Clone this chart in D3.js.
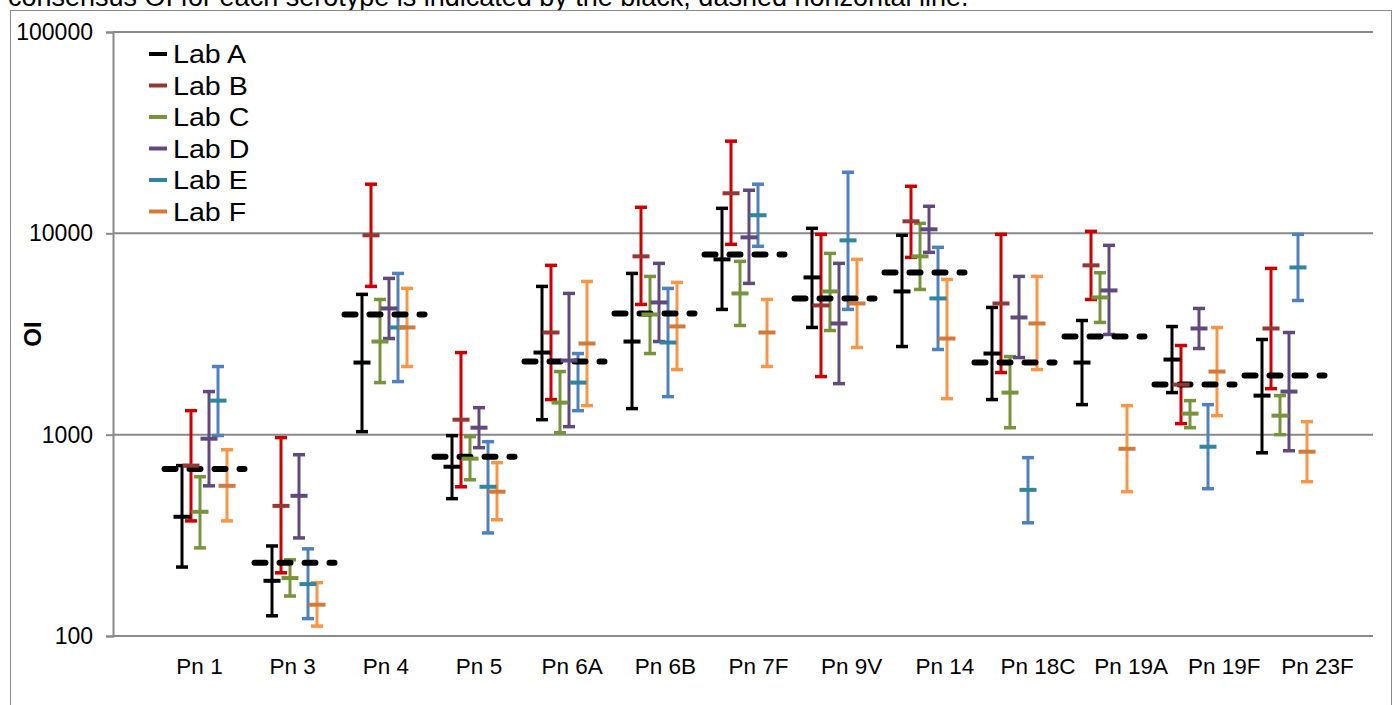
<!DOCTYPE html>
<html>
<head>
<meta charset="utf-8">
<script src="https://cdn.jsdelivr.net/npm/d3@7"></script>
<style>
  html, body { margin: 0; padding: 0; background: #ffffff; }
  svg { display: block; font-family: "Liberation Sans", Arial, sans-serif; }
</style>
</head>
<body>
<svg id="chart" width="1393" height="705"></svg>
<script>
// ---------- data ----------
const categories = ["Pn 1","Pn 3","Pn 4","Pn 5","Pn 6A","Pn 6B","Pn 7F","Pn 9V","Pn 14","Pn 18C","Pn 19A","Pn 19F","Pn 23F"];
const labs = ["Lab A","Lab B","Lab C","Lab D","Lab E","Lab F"];
const yTicks = [100, 1000, 10000, 100000];

const labAMean = [391, 188, 2281, 693, 2558, 2901, 7425, 6040, 5145, 2529, 2281, 2361, 1563];
const labALow  = [220, 126, 1035, 481, 1187, 1347, 4188, 3408, 2740, 1494, 1410, 1618, 813];
const labAHigh = [702, 280, 4975, 989, 5450, 6323, 13310, 10590, 9775, 4285, 3690, 3444, 2970];

const labBMean = [702, 443, 9775, 1187, 3217, 7686, 15810, 4385, 11470, 4483, 6934, 1773, 3368];
const labBLow  = [373, 206, 5450, 551, 1494, 4434, 8817, 1943, 7596, 2035, 4694, 1135, 1693];
const labBHigh = [1316, 967, 17540, 2558, 6934, 13470, 28700, 9885, 17130, 9885, 10230, 2773, 6698];

const labCMean = [414, 194, 2901, 760, 1443, 3954, 5029, 5145, 7686, 1618, 4805, 1272, 1243];
const labCLow  = [274, 158, 1814, 597, 1023, 2529, 3486, 3291, 5265, 1083, 3609, 1083, 1000];
const labCHigh = [618, 239, 4694, 978, 2058, 6110, 7256, 7950, 11210, 2443, 6370, 1476, 1563];

const labDMean = [955, 497, 4236, 1083, 2335, 4537, 9550, 3567, 10470, 3820, 5205, 3368, 1637];
const labDLow  = [557, 307, 3003, 862, 1096, 2901, 5640, 1793, 8045, 2415, 3145, 2679, 832];
const labDHigh = [1637, 795, 5973, 1362, 5029, 7093, 16370, 7093, 13630, 6110, 8718, 4236, 3217];

const labEMean = [1476, 181, 3408, 551, 1814, 2869, 12300, 9230, 4750, 532, null, 871, 6770];
const labELow  = [990, 122, 1835, 325, 1316, 1545, 8618, 4188, 2648, 365, null, 539, 4640];
const labEHigh = [2180, 271, 6323, 923, 2529, 5326, 17540, 20110, 8520, 769, null, 1410, 9885];

const labFMean = [557, 143, 3408, 521, 2837, 3448, 3217, 4483, 3003, 3567, 851, 2058, 823];
const labFLow  = [373, 112, 2180, 378, 1394, 2106, 2180, 2709, 1510, 2106, 521, 1243, 584];
const labFHigh = [842, 184, 5326, 726, 5768, 5703, 4694, 7425, 5904, 6110, 1394, 3408, 1161];

const consensus = [676, 231, 3954, 777, 2308, 4000, 7860, 4750, 6397, 2281, 3073, 1773, 1966];

const barColors  = ["#000000", "#CC0000", "#77933C", "#604A7B", "#4F81BD", "#F79646"];
const markColors = ["#000000", "#953735", "#77933C", "#604A7B", "#31859C", "#D07A3C"];

const labSeries = [
  {mean: labAMean, low: labALow, high: labAHigh},
  {mean: labBMean, low: labBLow, high: labBHigh},
  {mean: labCMean, low: labCLow, high: labCHigh},
  {mean: labDMean, low: labDLow, high: labDHigh},
  {mean: labEMean, low: labELow, high: labEHigh},
  {mean: labFMean, low: labFLow, high: labFHigh}
];

// ---------- layout ----------
const svg = d3.select("#chart");
const plotLeft = 113, plotRight = 1373, plotTop = 32, plotBottom = 636;
const gridColor = "#898989";

const y = d3.scaleLog().domain([100, 100000]).range([plotBottom, plotTop]);
const xGroup = d3.scalePoint().domain(categories).range([204.5, 1284.5]);
const xLabel = d3.scalePoint().domain(categories).range([199, 1317]);
const xLab = d3.scalePoint().domain(labs).range([-22.5, 22.5]);

svg.append("rect").attr("width", 1393).attr("height", 705).attr("fill", "#fff");

// caption (partially cut off at the top, as in the source image)
svg.append("text")
  .attr("x", 8).attr("y", 6)
  .attr("font-size", 27)
  .attr("fill", "#000")
  .text("consensus OI for each serotype is indicated by the black, dashed horizontal line.");

// chart area border
svg.append("rect")
  .attr("x", 10.5).attr("y", 10.5)
  .attr("width", 1381).attr("height", 720)
  .attr("fill", "#fff")
  .attr("stroke", gridColor).attr("stroke-width", 1);

// gridlines
svg.append("g")
  .selectAll("line")
  .data(yTicks)
  .join("line")
  .attr("x1", plotLeft).attr("x2", plotRight)
  .attr("y1", d => y(d)).attr("y2", d => y(d))
  .attr("stroke", gridColor).attr("stroke-width", 2);

// y axis
const yAxis = d3.axisLeft(y)
  .tickValues(yTicks)
  .tickFormat(d3.format("d"))
  .tickSize(7)
  .tickPadding(13);
const gy = svg.append("g").attr("transform", `translate(${plotLeft},0)`).call(yAxis);
gy.select(".domain").attr("stroke", gridColor).attr("stroke-width", 2);
gy.selectAll(".tick line").attr("stroke", gridColor).attr("stroke-width", 2);
gy.selectAll(".tick text")
  .attr("font-size", 23)
  .attr("font-family", "'Liberation Sans', Arial, sans-serif")
  .attr("fill", "#000");

// x axis labels
const xAxis = d3.axisBottom(xLabel).tickSize(0).tickPadding(22);
const gx = svg.append("g").attr("transform", `translate(0,${plotBottom})`).call(xAxis);
gx.select(".domain").remove();
gx.selectAll(".tick text")
  .attr("font-size", 22.5)
  .attr("font-family", "'Liberation Sans', Arial, sans-serif")
  .attr("fill", "#000");

// y axis title
svg.append("text")
  .attr("transform", "translate(32,334) rotate(-90)")
  .attr("text-anchor", "middle")
  .attr("dominant-baseline", "central")
  .attr("font-size", 24)
  .attr("font-weight", "bold")
  .text("OI");

// error bars
const barsG = svg.append("g");
labSeries.forEach((s, li) => {
  const g = barsG.append("g");
  const pts = categories.map((c, i) => ({c, mean: s.mean[i], low: s.low[i], high: s.high[i]}))
    .filter(d => d.mean != null);
  const xpos = d => xGroup(d.c) + xLab(labs[li]);
  g.selectAll("line.stem").data(pts).join("line")
    .attr("x1", xpos).attr("x2", xpos)
    .attr("y1", d => y(d.low)).attr("y2", d => y(d.high))
    .attr("stroke", barColors[li]).attr("stroke-width", 3);
  ["low", "high"].forEach(k => {
    g.selectAll("line.cap-" + k).data(pts).join("line")
      .attr("x1", d => xpos(d) - 6).attr("x2", d => xpos(d) + 6)
      .attr("y1", d => y(d[k])).attr("y2", d => y(d[k]))
      .attr("stroke", barColors[li]).attr("stroke-width", 3.5);
  });
});

// consensus dashed lines
svg.append("g")
  .selectAll("line")
  .data(categories.map((c, i) => ({c, v: consensus[i]})))
  .join("line")
  .attr("x1", d => xGroup(d.c) - 40).attr("x2", d => xGroup(d.c) + 40)
  .attr("y1", d => y(d.v)).attr("y2", d => y(d.v))
  .attr("stroke", "#000").attr("stroke-width", 6)
  .attr("stroke-linecap", "round")
  .attr("stroke-dasharray", "11 14");

// mean markers
labSeries.forEach((s, li) => {
  const pts = categories.map((c, i) => ({c, mean: s.mean[i]})).filter(d => d.mean != null);
  svg.append("g").selectAll("rect").data(pts).join("rect")
    .attr("x", d => xGroup(d.c) + xLab(labs[li]) - 8.5)
    .attr("y", d => y(d.mean) - 2)
    .attr("width", 17).attr("height", 4)
    .attr("fill", markColors[li]);
});

// legend
const legend = svg.append("g");
labs.forEach((l, i) => {
  const ly = 54 + i * 31.5;
  legend.append("line")
    .attr("x1", 149).attr("x2", 167)
    .attr("y1", ly).attr("y2", ly)
    .attr("stroke", markColors[i]).attr("stroke-width", 4);
  legend.append("text")
    .attr("transform", `translate(173,${ly + 9}) scale(1.1,1)`)
    .attr("font-size", 26)
    .attr("fill", "#000")
    .text(l);
});
</script>
</body>
</html>
